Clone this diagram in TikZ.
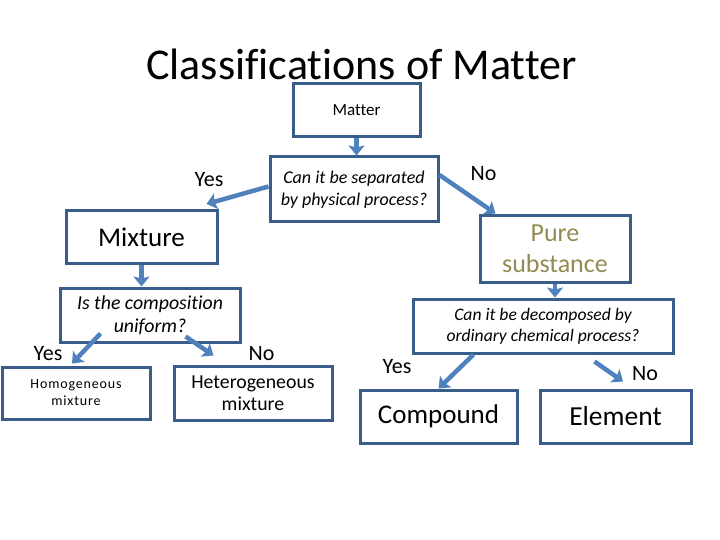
\documentclass[tikz,border=0pt]{standalone}
\usepackage{fontspec}
\setmainfont{Carlito}[Ligatures={NoCommon,NoContextual}]
\newfontfamily\spacedfont[LetterSpace=6,Ligatures={NoCommon,NoContextual}]{Carlito}
\usetikzlibrary{arrows.meta,calc}
\definecolor{boxline}{HTML}{385D8A}
\definecolor{arrowblue}{HTML}{4F81BD}
\definecolor{olivetext}{HTML}{948A54}
\tikzset{
  box/.style={draw=boxline, line width=3pt, rectangle, inner sep=0pt, align=center, text=black},
  flow/.style={draw=arrowblue, line width=4.5pt, -{Stealth[length=10pt,width=16pt,inset=2pt]}},
  lab/.style={inner sep=0pt, anchor=base, font=\fontsize{22}{26}\selectfont},
}
\begin{document}
\begin{tikzpicture}[x=1pt,y=-1pt]
\useasboundingbox[fill=white] (0,0) rectangle (720,540);

\node[inner sep=0pt, anchor=base, font=\fontsize{44}{50}\selectfont] (title) at (361.5,80) {Classifications of Matter};

\node[box, minimum width=127pt, minimum height=53pt, font=\fontsize{17}{20}\selectfont] (matter) at (356.5,110.5) {Matter};
\node[box, minimum width=168pt, minimum height=65pt, font=\fontsize{18}{22}\selectfont\itshape] (q1) at (354,189.5) {Can it be separated\\by physical process?};
\node[box, minimum width=151pt, minimum height=53pt, font=\fontsize{27}{32}\selectfont] (mix) at (141.5,237) {Mixture};
\node[box, minimum width=150pt, minimum height=66pt, text=olivetext, font=\fontsize{26}{31}\selectfont] (pure) at (555,249) {Pure\\substance};
\node[box, minimum width=180pt, minimum height=54pt, font=\fontsize{19.8}{23}\selectfont\itshape] (q2) at (150,315) {Is the composition\\uniform?};
\node[box, minimum width=260pt, minimum height=54pt, font=\fontsize{17.6}{21}\selectfont\itshape] (q3) at (543,326) {Can it be decomposed by\\ordinary chemical process?};
\node[box, minimum width=148pt, minimum height=52pt, font=\fontsize{14}{17}\spacedfont] (homo) at (76,393) {Homogeneous\\mixture};
\node[box, minimum width=158pt, minimum height=54pt, font=\fontsize{19.8}{22}\selectfont] (het) at (253,393) {Heterogeneous\\mixture};
\node[box, minimum width=157pt, minimum height=53pt, font=\fontsize{27}{32}\selectfont] (comp) at (438.5,416.5) {Compound};
\node[box, minimum width=151pt, minimum height=53pt, font=\fontsize{27.5}{32}\selectfont] (elem) at (615.5,416.5) {Element};

\node[lab] (yes1) at (209,187) {Yes};
\node[lab] (no1) at (483.5,181) {No};
\node[lab] (yes2) at (48,360) {Yes};
\node[lab] (no2) at (261.5,360) {No};
\node[lab] (yes3) at (397,373) {Yes};
\node[lab] (no3) at (645,380) {No};

\draw[flow] (matter.south) -- (matter.south |- q1.north);
\draw[flow] ($(q1.west)+(0,-3)$) -- ($(mix.north east)+(-12,-5)$);
\draw[flow] ($(q1.east)+(0,-14.5)$) -- ($(pure.north west)+(17,-1)$);
\draw[flow] (mix.south) -- (mix.south |- q2.north);
\draw[flow] ($(q2.south west)+(42,-10)$) -- ($(homo.north)+(-4,-2)$);
\draw[flow] ($(q2.south west)+(127,-7)$) -- ($(het.north west)+(41,-9)$);
\draw[flow] (pure.south) -- (pure.south |- q3.north);
\draw[flow] ($(q3.south west)+(62,0)$) -- (comp.north);
\draw[flow] ($(q3.south)+(51.5,7)$) -- ($(elem.north)+(7.5,-7)$);
\end{tikzpicture}
\end{document}
